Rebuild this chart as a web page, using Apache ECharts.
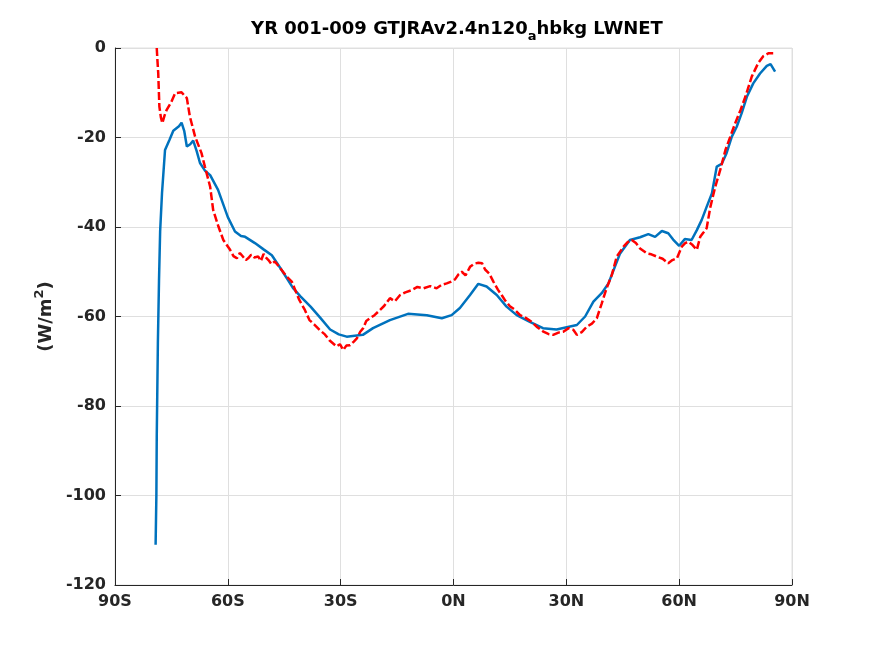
<!DOCTYPE html>
<html>
<head>
<meta charset="utf-8">
<script src="https://cdn.jsdelivr.net/npm/echarts@6/dist/echarts.min.js"></script>
<style>
  html, body { margin: 0; padding: 0; background: #fff; }
  #main { width: 875px; height: 656px; }
</style>
</head>
<body>
<div id="main"></div>
<script>
// zonal mean LWNET
var blueData = [
  [-79.2, -111], [-79.0, -100], [-78.9, -87], [-78.6, -66], [-78.3, -52], [-78.0, -41],
  [-77.5, -32.4], [-76.7, -22.8], [-75.5, -20.5], [-74.5, -18.5], [-73, -17.5], [-72.3, -16.7],
  [-71.6, -18.5], [-70.9, -22], [-70, -21.5], [-69.2, -20.7], [-68.3, -23], [-67.4, -25.7],
  [-66, -27.5], [-64.7, -28.4], [-62.6, -31.7], [-60, -37.8], [-58.1, -41], [-56.5, -42],
  [-55.4, -42.2], [-52.8, -43.6], [-50.5, -45], [-48.3, -46.3], [-45.7, -49.6], [-42.7, -53.6],
  [-40.7, -55.5], [-38, -57.8], [-35.4, -60.3], [-32.8, -62.9], [-30.5, -64], [-28.4, -64.5],
  [-24.1, -64.1], [-21.4, -62.6], [-16.9, -60.8], [-12.1, -59.4], [-7.1, -59.7], [-3.1, -60.4],
  [-0.5, -59.7], [1.7, -58.1], [4.4, -55.2], [6.6, -52.7], [8.8, -53.3], [11.5, -55.2],
  [14.1, -57.8], [16.8, -59.7], [20.3, -61.2], [23.8, -62.6], [27.4, -62.9], [30.1, -62.4],
  [32.8, -61.9], [35.0, -60], [37.2, -56.7], [39.4, -54.8], [41.2, -52.6], [42.9, -48.9],
  [44.3, -45.9], [46.9, -42.9], [49.6, -42.3], [51.8, -41.6], [53.6, -42.2], [55.4, -40.9],
  [57.1, -41.4], [58.4, -42.8], [60, -44.2], [61.5, -42.7], [63.3, -42.9], [64.7, -40.7],
  [66, -38.4], [67.3, -35.5], [68.7, -32.5], [70, -26.5], [71.3, -25.9], [72.6, -23.5],
  [74, -19.8], [75.3, -17.6], [76.6, -14.6], [78, -10.9], [79.7, -7.9], [81.5, -5.7],
  [83.3, -4.0], [84.3, -3.6], [85.5, -5.3]
];

var redData = [
  [-78.9, 0], [-78.7, -3], [-78.5, -5.7], [-78.2, -13.1], [-77.8, -15.5], [-77.4, -16.8],
  [-76.8, -15], [-76.3, -13.9], [-75, -12], [-74, -10.1], [-72.3, -9.9], [-70.9, -11.2],
  [-70.1, -15.3], [-68.7, -19.8], [-67, -23.5], [-66.1, -26.5], [-64.7, -31], [-63.9, -36.2],
  [-62.5, -39.9], [-61.2, -42.9], [-59.4, -45.1], [-58.5, -46.5], [-57.6, -47], [-56.8, -45.8],
  [-56, -46.6], [-55.2, -47.4], [-54.6, -47], [-53.8, -46.2], [-53, -46.8], [-51.9, -46.6],
  [-51.2, -47.6], [-50.5, -46], [-49.9, -46.8], [-49.2, -47.4], [-48.4, -48.3], [-47.5, -47.7],
  [-45.7, -49.6], [-44.2, -51.2], [-43, -52.2], [-41, -56.3], [-39.6, -58.4], [-38.3, -60.8],
  [-37, -61.8], [-35.6, -63], [-34.2, -64], [-33, -65.3], [-31.1, -66.7], [-30.2, -66.2],
  [-29.3, -67.5], [-28.5, -66.5], [-27.5, -66.4], [-26.5, -65.6], [-25.7, -64.9], [-24.8, -63.4],
  [-24.0, -62.6], [-23.2, -61], [-22.2, -60.4], [-21, -59.7], [-19.5, -58.5], [-18.4, -57.6],
  [-16.9, -55.9], [-15.6, -56.6], [-14.2, -55.2], [-12.8, -54.6], [-11.1, -54.1], [-9.6, -53.4],
  [-8.0, -53.7], [-6.2, -53.2], [-4.5, -53.7], [-3.1, -52.9], [-1.8, -52.6], [-0.6, -52.2],
  [0.4, -51.7], [1.3, -50.6], [2.2, -50], [3.2, -50.8], [4.4, -48.9], [5.5, -48.2],
  [6.6, -48], [7.6, -48.1], [8.4, -49.5], [9.5, -50.4], [10.6, -52.2], [11.8, -54],
  [12.8, -55.2], [13.8, -56.5], [15, -57.7], [16.2, -58.4], [17.7, -59.7], [19.2, -60.3],
  [20.8, -61.2], [22.3, -62.4], [23.9, -63.4], [25.2, -63.9], [26.5, -64.1], [27.9, -63.6],
  [29.2, -63.4], [30.6, -62.6], [31.9, -63.0], [32.8, -64.1], [34.1, -63.5], [35.4, -62.3],
  [36.8, -61.6], [38.1, -60.4], [39.4, -57.1], [40.7, -53.7], [42.1, -50.7], [43.4, -46.6],
  [45.2, -44.4], [46.3, -43.4], [47.4, -42.9], [48.5, -43.6], [49.6, -44.8], [51.4, -45.9],
  [52.6, -46.1], [54, -46.6], [55.6, -47.1], [57.1, -48.1], [58.2, -47.4], [59.4, -47],
  [60.7, -44.4], [61.6, -43.6], [62.4, -43.3], [63.4, -43.9], [64.7, -45.1], [65.6, -42.2],
  [66.5, -41.2], [67.3, -40.3], [68.3, -35.5], [69.6, -31], [70.9, -27.3], [72.3, -22.8],
  [73.6, -19.8], [74.9, -16.8], [76.3, -13.9], [77.6, -10.9], [79.3, -6.4], [81, -3.4],
  [82.4, -1.8], [83.7, -1.2], [85, -1.2]
];

var xTicks = { '-90': '90S', '-60': '60S', '-30': '30S', '0': '0N', '30': '30N', '60': '60N', '90': '90N' };

var myChart = echarts.init(document.getElementById('main'));

var labelFont = { color: '#262626', fontSize: 16, fontWeight: 'bold', fontFamily: 'DejaVu Sans' };

var option = {
  animation: false,
  backgroundColor: '#fff',
  title: {
    text: '{t|YR 001-009 GTJRAv2.4n120}{s|a}{t|hbkg LWNET}',
    left: 452,
    top: 11,
    textAlign: 'center',
    textStyle: {
      rich: {
        t: { fontSize: 18, fontWeight: 'bold', color: '#000', fontFamily: 'DejaVu Sans' },
        s: { fontSize: 13, fontWeight: 'bold', color: '#000', fontFamily: 'DejaVu Sans', padding: [14, 0, 0, 0] }
      }
    }
  },
  grid: { left: 115, right: 83, top: 48, bottom: 71, show: true, borderColor: '#e0e0e0', borderWidth: 1 },
  xAxis: {
    type: 'value',
    min: -90, max: 90, interval: 30,
    axisLine: { onZero: false, lineStyle: { color: '#262626', width: 1 } },
    axisTick: { inside: true, length: 6, lineStyle: { color: '#262626' } },
    axisLabel: Object.assign({ margin: 9, formatter: function (v) { return xTicks[String(v)]; } }, labelFont),
    splitLine: { show: true, lineStyle: { color: '#dfdfdf', width: 1 } }
  },
  yAxis: {
    type: 'value',
    min: -120, max: 0, interval: 20,
    name: '{a|(W/m}{b|2}{a|)}',
    nameLocation: 'middle',
    nameGap: 56,
    nameTextStyle: {
      rich: {
        a: { color: '#262626', fontSize: 18, fontWeight: 'bold', fontFamily: 'DejaVu Sans' },
        b: { color: '#262626', fontSize: 13, fontWeight: 'bold', fontFamily: 'DejaVu Sans', padding: [0, 0, 12, 0] }
      }
    },
    axisLine: { show: true, onZero: false, lineStyle: { color: '#262626', width: 1 } },
    axisTick: { inside: true, length: 6, lineStyle: { color: '#262626' } },
    axisLabel: Object.assign({ margin: 9 }, labelFont),
    splitLine: { show: true, lineStyle: { color: '#dfdfdf', width: 1 } }
  },
  series: [
    {
      name: 'red',
      type: 'line',
      data: redData,
      showSymbol: false,
      lineStyle: { color: '#ff0000', width: 2.5, type: [8, 3] },
      z: 3
    },
    {
      name: 'blue',
      type: 'line',
      data: blueData,
      showSymbol: false,
      lineStyle: { color: '#0072bd', width: 2.5 },
      z: 2
    }
  ]
};

myChart.setOption(option);
</script>
</body>
</html>
